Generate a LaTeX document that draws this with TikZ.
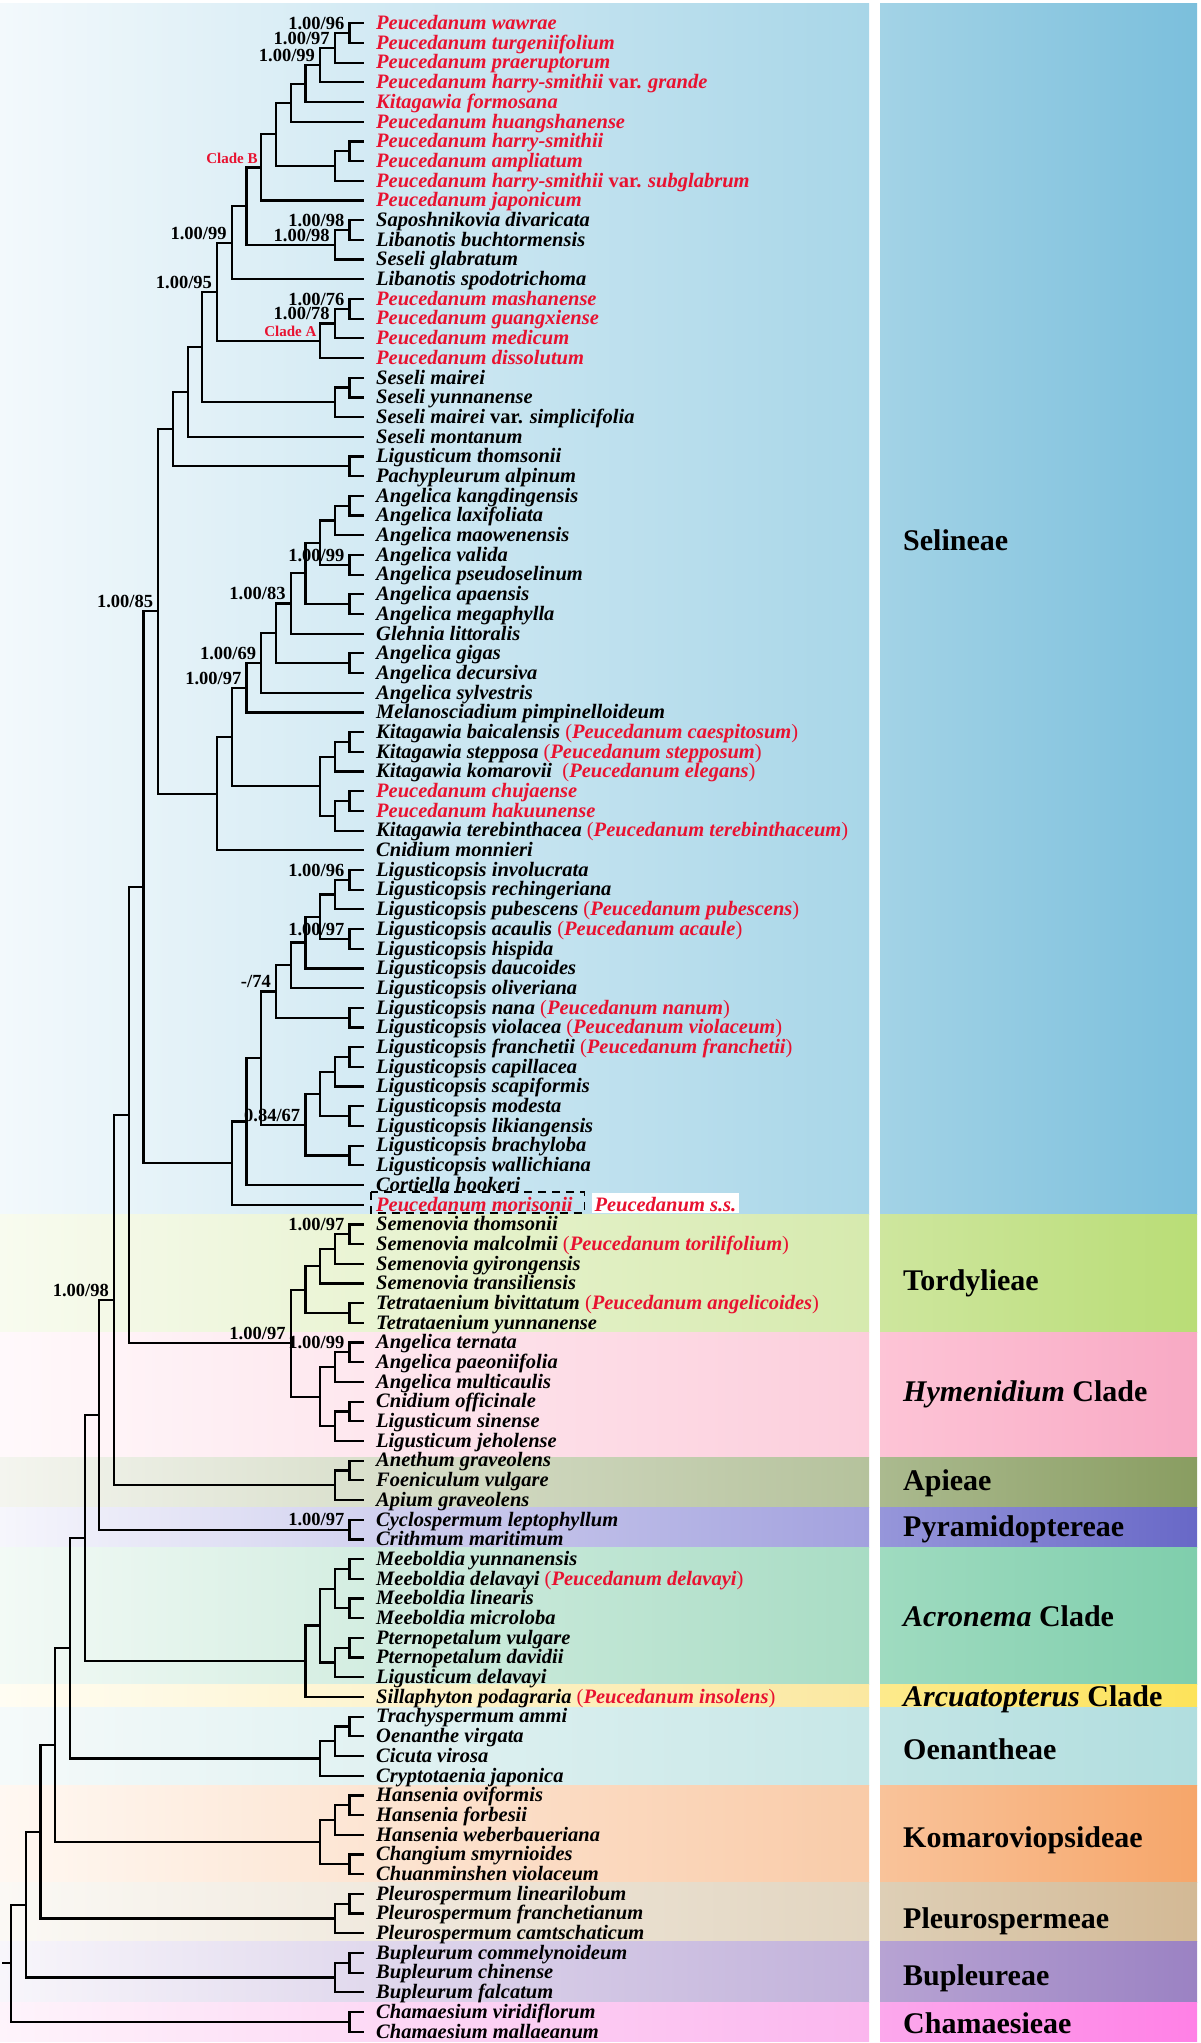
\documentclass[tikz,border=0pt]{standalone}
\usepackage{fontspec}
\setmainfont{Liberation Serif}
\usetikzlibrary{calc}
\definecolor{pred}{RGB}{232,18,48}
\definecolor{selL}{HTML}{F3F9FC}\definecolor{selM}{HTML}{A8D6E8}\definecolor{selN}{HTML}{A3D3E6}\definecolor{selR}{HTML}{7BBFDC}
\definecolor{torL}{HTML}{F8FBEF}\definecolor{torM}{HTML}{D6EAAE}\definecolor{torN}{HTML}{CEE69E}\definecolor{torR}{HTML}{B9DD76}
\definecolor{hymL}{HTML}{FFF9FB}\definecolor{hymM}{HTML}{FCCEDC}\definecolor{hymN}{HTML}{FDC4D6}\definecolor{hymR}{HTML}{F8A9C4}
\definecolor{apiL}{HTML}{F4F5EF}\definecolor{apiM}{HTML}{B5C29C}\definecolor{apiN}{HTML}{ABBA8F}\definecolor{apiR}{HTML}{899D61}
\definecolor{pyrL}{HTML}{F6F6FC}\definecolor{pyrM}{HTML}{A2A1DE}\definecolor{pyrN}{HTML}{9696DA}\definecolor{pyrR}{HTML}{6868C7}
\definecolor{acrL}{HTML}{F3FAF6}\definecolor{acrM}{HTML}{A8DCC4}\definecolor{acrN}{HTML}{9FDBC0}\definecolor{acrR}{HTML}{7FCEAC}
\definecolor{arcL}{HTML}{FFFDF3}\definecolor{arcM}{HTML}{FBE8A0}\definecolor{arcN}{HTML}{FDEA8C}\definecolor{arcR}{HTML}{FDE35A}
\definecolor{oenL}{HTML}{F5FAFA}\definecolor{oenM}{HTML}{C7E7E7}\definecolor{oenN}{HTML}{C3E5E5}\definecolor{oenR}{HTML}{B1DEDF}
\definecolor{komL}{HTML}{FFF8F2}\definecolor{komM}{HTML}{F9CBA8}\definecolor{komN}{HTML}{F9C39A}\definecolor{komR}{HTML}{F6A66A}
\definecolor{pleL}{HTML}{FBF9F5}\definecolor{pleM}{HTML}{E2D5C0}\definecolor{pleN}{HTML}{DECFB6}\definecolor{pleR}{HTML}{D3B995}
\definecolor{bupL}{HTML}{F8F6FB}\definecolor{bupM}{HTML}{C1B1DA}\definecolor{bupN}{HTML}{B7A3D3}\definecolor{bupR}{HTML}{9B82C3}
\definecolor{chaL}{HTML}{FEF4FB}\definecolor{chaM}{HTML}{FBB6EE}\definecolor{chaN}{HTML}{FCA8EC}\definecolor{chaR}{HTML}{FF80E6}
\newcommand{\R}[1]{\textcolor{pred}{#1}}
\newcommand{\vr}{{\upshape var.}}
\newcommand{\pp}[1]{\textcolor{pred}{{\upshape\mdseries(}#1{\upshape\mdseries)}}}
\newcommand{\band}[3]{%
  \shade[left color=#3L, right color=#3M] (0,#1) rectangle (869,#2);
  \shade[left color=#3N, right color=#3R] (880,#1) rectangle (1197,#2);}
\newcommand{\tip}[2]{\coordinate (t#1) at (364.3,{23.3+(#1-1)*19.69});
  \node[taxon] (l#1) at ([xshift=11.7pt,yshift=-6.3pt]t#1) {#2};}
\newcommand{\cl}[4]{\path let \p1=(#3), \p2=(#4) in coordinate (#1) at ({(364.3-14.72*#2)*1pt},{0.5*\y1+0.5*\y2});
  \draw[br] (#1) |- (#3) (#1) |- (#4);}
\newcommand{\sv}[2]{\node[sup] (s#1) at ([xshift=-5pt,yshift=3.7pt]#1) {#2};}
\newcommand{\cla}[2]{\node[clab] (c#1) at ([xshift=-3.5pt,yshift=4.2pt]#1) {#2};}
\begin{document}
\begin{tikzpicture}[x=1pt,y=-1pt,
  br/.style={line width=2.2pt, line join=miter},
  taxon/.style={anchor=base west, inner sep=0pt, font=\fontsize{20.5}{20.5}\selectfont\bfseries\itshape},
  sup/.style={anchor=base east, inner sep=0pt, font=\fontsize{18.5}{18.5}\selectfont\bfseries},
  clab/.style={anchor=base east, inner sep=0pt, text=pred, font=\fontsize{15}{15}\selectfont\bfseries},
  tribe/.style={anchor=base west, inner sep=0pt, font=\fontsize{30}{30}\selectfont\bfseries}]
\useasboundingbox (0,0) rectangle (1200,2043);
\fill[white] (0,0) rectangle (1200,2043);
% background bands
\band{3}{1214.7}{sel}
\band{1214.7}{1332.5}{tor}
\band{1332.5}{1457}{hym}
\band{1457}{1507.6}{api}
\band{1507.6}{1547.5}{pyr}
\band{1547.5}{1684.2}{acr}
\band{1684.2}{1707.8}{arc}
\band{1707.8}{1785.6}{oen}
\band{1785.6}{1882.5}{kom}
\band{1882.5}{1941}{ple}
\band{1941}{2002.7}{bup}
\band{2002.7}{2041}{cha}
% tribe labels
\node[tribe] (tr1) at (903,550) {Selineae};
\node[tribe] (tr2) at (903,1290.3) {Tordylieae};
\node[tribe] (tr3) at (903,1401.6) {\textit{Hymenidium} Clade};
\node[tribe] (tr4) at (903,1490.3) {Apieae};
\node[tribe] (tr5) at (903,1536) {Pyramidoptereae};
\node[tribe] (tr6) at (903,1626.3) {\textit{Acronema} Clade};
\node[tribe] (tr7) at (903,1706.5) {\textit{Arcuatopterus} Clade};
\node[tribe] (tr8) at (903,1759) {Oenantheae};
\node[tribe] (tr9) at (903,1847.8) {Komaroviopsideae};
\node[tribe] (tr10) at (903,1928.5) {Pleurospermeae};
\node[tribe] (tr11) at (903,1985) {Bupleureae};
\node[tribe] (tr12) at (903,2033.3) {Chamaesieae};
% tips
\tip{1}{\R{Peucedanum wawrae}}
\tip{2}{\R{Peucedanum turgeniifolium}}
\tip{3}{\R{Peucedanum praeruptorum}}
\tip{4}{\R{Peucedanum harry-smithii \vr{} grande}}
\tip{5}{\R{Kitagawia formosana}}
\tip{6}{\R{Peucedanum huangshanense}}
\tip{7}{\R{Peucedanum harry-smithii}}
\tip{8}{\R{Peucedanum ampliatum}}
\tip{9}{\R{Peucedanum harry-smithii \vr{} subglabrum}}
\tip{10}{\R{Peucedanum japonicum}}
\tip{11}{Saposhnikovia divaricata}
\tip{12}{Libanotis buchtormensis}
\tip{13}{Seseli glabratum}
\tip{14}{Libanotis spodotrichoma}
\tip{15}{\R{Peucedanum mashanense}}
\tip{16}{\R{Peucedanum guangxiense}}
\tip{17}{\R{Peucedanum medicum}}
\tip{18}{\R{Peucedanum dissolutum}}
\tip{19}{Seseli mairei}
\tip{20}{Seseli yunnanense}
\tip{21}{Seseli mairei \vr{} simplicifolia}
\tip{22}{Seseli montanum}
\tip{23}{Ligusticum thomsonii}
\tip{24}{Pachypleurum alpinum}
\tip{25}{Angelica kangdingensis}
\tip{26}{Angelica laxifoliata}
\tip{27}{Angelica maowenensis}
\tip{28}{Angelica valida}
\tip{29}{Angelica pseudoselinum}
\tip{30}{Angelica apaensis}
\tip{31}{Angelica megaphylla}
\tip{32}{Glehnia littoralis}
\tip{33}{Angelica gigas}
\tip{34}{Angelica decursiva}
\tip{35}{Angelica sylvestris}
\tip{36}{Melanosciadium pimpinelloideum}
\tip{37}{Kitagawia baicalensis \pp{Peucedanum caespitosum}}
\tip{38}{Kitagawia stepposa \pp{Peucedanum stepposum}}
\tip{39}{Kitagawia komarovii\ \ \pp{Peucedanum elegans}}
\tip{40}{\R{Peucedanum chujaense}}
\tip{41}{\R{Peucedanum hakuunense}}
\tip{42}{Kitagawia terebinthacea \pp{Peucedanum terebinthaceum}}
\tip{43}{Cnidium monnieri}
\tip{44}{Ligusticopsis involucrata}
\tip{45}{Ligusticopsis rechingeriana}
\tip{46}{Ligusticopsis pubescens \pp{Peucedanum pubescens}}
\tip{47}{Ligusticopsis acaulis \pp{Peucedanum acaule}}
\tip{48}{Ligusticopsis hispida}
\tip{49}{Ligusticopsis daucoides}
\tip{50}{Ligusticopsis oliveriana}
\tip{51}{Ligusticopsis nana \pp{Peucedanum nanum}}
\tip{52}{Ligusticopsis violacea \pp{Peucedanum violaceum}}
\tip{53}{Ligusticopsis franchetii \pp{Peucedanum franchetii}}
\tip{54}{Ligusticopsis capillacea}
\tip{55}{Ligusticopsis scapiformis}
\tip{56}{Ligusticopsis modesta}
\tip{57}{Ligusticopsis likiangensis}
\tip{58}{Ligusticopsis brachyloba}
\tip{59}{Ligusticopsis wallichiana}
\tip{60}{Cortiella hookeri}
\tip{61}{\R{Peucedanum morisonii}}
\tip{62}{Semenovia thomsonii}
\tip{63}{Semenovia malcolmii \pp{Peucedanum torilifolium}}
\tip{64}{Semenovia gyirongensis}
\tip{65}{Semenovia transiliensis}
\tip{66}{Tetrataenium bivittatum \pp{Peucedanum angelicoides}}
\tip{67}{Tetrataenium yunnanense}
\tip{68}{Angelica ternata}
\tip{69}{Angelica paeoniifolia}
\tip{70}{Angelica multicaulis}
\tip{71}{Cnidium officinale}
\tip{72}{Ligusticum sinense}
\tip{73}{Ligusticum jeholense}
\tip{74}{Anethum graveolens}
\tip{75}{Foeniculum vulgare}
\tip{76}{Apium graveolens}
\tip{77}{Cyclospermum leptophyllum}
\tip{78}{Crithmum maritimum}
\tip{79}{Meeboldia yunnanensis}
\tip{80}{Meeboldia delavayi \pp{Peucedanum delavayi}}
\tip{81}{Meeboldia linearis}
\tip{82}{Meeboldia microloba}
\tip{83}{Pternopetalum vulgare}
\tip{84}{Pternopetalum davidii}
\tip{85}{Ligusticum delavayi}
\tip{86}{Sillaphyton podagraria \pp{Peucedanum insolens}}
\tip{87}{Trachyspermum ammi}
\tip{88}{Oenanthe virgata}
\tip{89}{Cicuta virosa}
\tip{90}{Cryptotaenia japonica}
\tip{91}{Hansenia oviformis}
\tip{92}{Hansenia forbesii}
\tip{93}{Hansenia weberbaueriana}
\tip{94}{Changium smyrnioides}
\tip{95}{Chuanminshen violaceum}
\tip{96}{Pleurospermum linearilobum}
\tip{97}{Pleurospermum franchetianum}
\tip{98}{Pleurospermum camtschaticum}
\tip{99}{Bupleurum commelynoideum}
\tip{100}{Bupleurum chinense}
\tip{101}{Bupleurum falcatum}
\tip{102}{Chamaesium viridiflorum}
\tip{103}{Chamaesium mallaeanum}
% Peucedanum s.s. markers
\draw[line width=1.8pt, dash pattern=on 8pt off 6pt] (370.6,1192.3) rectangle (584.4,1213.3);
\node[fill=white, anchor=base west, inner xsep=2.5pt, inner ysep=0pt, text height=18.5pt, text depth=2.1pt, text=pred,
  font=\fontsize{20.5}{20.5}\selectfont\bfseries\itshape] (pss) at (591.8,1211.2) {Peucedanum s.s.};
% tree
\cl{a1}{1}{t1}{t2}
\cl{a2}{2}{a1}{t3}
\cl{a3}{3}{a2}{t4}
\cl{a4}{4}{a3}{t5}
\cl{a5}{5}{a4}{t6}
\cl{a6}{1}{t7}{t8}
\cl{a7}{2}{a6}{t9}
\cl{a8}{6}{a5}{a7}
\cl{a9}{7}{a8}{t10}
\cl{a10}{1}{t11}{t12}
\cl{a11}{2}{a10}{t13}
\cl{a12}{8}{a9}{a11}
\cl{a13}{9}{a12}{t14}
\cl{a14}{1}{t15}{t16}
\cl{a15}{2}{a14}{t17}
\cl{a16}{3}{a15}{t18}
\cl{a17}{10}{a13}{a16}
\cl{a18}{1}{t19}{t20}
\cl{a19}{2}{a18}{t21}
\cl{a20}{11}{a17}{a19}
\cl{a21}{12}{a20}{t22}
\cl{a22}{1}{t23}{t24}
\cl{a23}{13}{a21}{a22}
\cl{b1}{1}{t25}{t26}
\cl{b2}{2}{b1}{t27}
\cl{b3}{1}{t28}{t29}
\cl{b4}{3}{b2}{b3}
\cl{b5}{1}{t30}{t31}
\cl{b6}{4}{b4}{b5}
\cl{b7}{5}{b6}{t32}
\cl{b8}{1}{t33}{t34}
\cl{b9}{6}{b7}{b8}
\cl{b10}{7}{b9}{t35}
\cl{b11}{8}{b10}{t36}
\cl{b12}{1}{t37}{t38}
\cl{b13}{2}{b12}{t39}
\cl{b14}{1}{t40}{t41}
\cl{b15}{2}{b14}{t42}
\cl{b16}{3}{b13}{b15}
\cl{b17}{9}{b11}{b16}
\cl{b18}{10}{b17}{t43}
\cl{a24}{14}{a23}{b18}
\cl{c1}{1}{t44}{t45}
\cl{c2}{2}{c1}{t46}
\cl{c3}{1}{t47}{t48}
\cl{c4}{3}{c2}{c3}
\cl{c5}{4}{c4}{t49}
\cl{c6}{5}{c5}{t50}
\cl{c7}{1}{t51}{t52}
\cl{c8}{6}{c6}{c7}
\cl{c9}{1}{t53}{t54}
\cl{c10}{2}{c9}{t55}
\cl{c11}{1}{t56}{t57}
\cl{c12}{3}{c10}{c11}
\cl{c13}{1}{t58}{t59}
\cl{c14}{4}{c12}{c13}
\cl{c15}{7}{c8}{c14}
\cl{c16}{8}{c15}{t60}
\cl{c17}{9}{c16}{t61}
\cl{a25}{15}{a24}{c17}
\cl{d1}{1}{t62}{t63}
\cl{d2}{2}{d1}{t64}
\cl{d3}{3}{d2}{t65}
\cl{d4}{1}{t66}{t67}
\cl{d5}{4}{d3}{d4}
\cl{d6}{1}{t68}{t69}
\cl{d7}{2}{d6}{t70}
\cl{d8}{1}{t71}{t72}
\cl{d9}{2}{d8}{t73}
\cl{d10}{3}{d7}{d9}
\cl{d11}{5}{d5}{d10}
\cl{a26}{16}{a25}{d11}
\cl{e1}{1}{t74}{t75}
\cl{e2}{2}{e1}{t76}
\cl{a27}{17}{a26}{e2}
\cl{e3}{1}{t77}{t78}
\cl{a28}{18}{a27}{e3}
\cl{f1}{1}{t79}{t80}
\cl{f2}{1}{t81}{t82}
\cl{f3}{2}{f1}{f2}
\cl{f4}{1}{t83}{t84}
\cl{f5}{2}{f4}{t85}
\cl{f6}{3}{f3}{f5}
\cl{f7}{4}{f6}{t86}
\cl{a29}{19}{a28}{f7}
\cl{g1}{1}{t87}{t88}
\cl{g2}{2}{g1}{t89}
\cl{g3}{3}{g2}{t90}
\cl{a30}{20}{a29}{g3}
\cl{g4}{1}{t91}{t92}
\cl{g5}{2}{g4}{t93}
\cl{g6}{1}{t94}{t95}
\cl{g7}{3}{g5}{g6}
\cl{a31}{21}{a30}{g7}
\cl{g8}{1}{t96}{t97}
\cl{g9}{2}{g8}{t98}
\cl{a32}{22}{a31}{g9}
\cl{g10}{1}{t99}{t100}
\cl{g11}{2}{g10}{t101}
\cl{a33}{23}{a32}{g11}
\cl{g12}{1}{t102}{t103}
\cl{root}{24}{a33}{g12}
\coordinate (stub) at ([xshift=-8.6pt]root);
\draw[br] (root) -- (stub);
% support values
\sv{a1}{1.00/96}
\sv{a2}{1.00/97}
\sv{a3}{1.00/99}
\sv{a10}{1.00/98}
\sv{a11}{1.00/98}
\sv{a13}{1.00/99}
\sv{a14}{1.00/76}
\sv{a15}{1.00/78}
\sv{a17}{1.00/95}
\sv{b3}{1.00/99}
\sv{b7}{1.00/83}
\sv{b10}{1.00/69}
\sv{b11}{1.00/97}
\sv{a24}{1.00/85}
\sv{c1}{1.00/96}
\sv{c3}{1.00/97}
\sv{c8}{-/74}
\sv{c14}{0.84/67}
\sv{d1}{1.00/97}
\sv{d6}{1.00/99}
\sv{d11}{1.00/97}
\sv{a27}{1.00/98}
\sv{e3}{1.00/97}
\cla{a9}{Clade B}
\cla{a16}{Clade A}
\end{tikzpicture}
\end{document}
